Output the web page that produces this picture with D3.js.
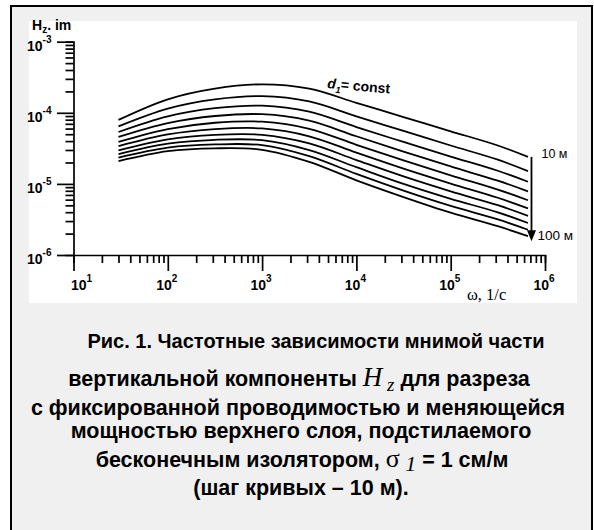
<!DOCTYPE html>
<html><head><meta charset="utf-8">
<script src="https://cdn.jsdelivr.net/npm/d3@7"></script>
<style>body{margin:0;background:#fff}svg{display:block}</style>
</head><body>
<svg id="c" width="594" height="530"></svg>
<script>
// ---- data ----
const omega = [30, 100, 316, 1000, 3160, 10000, 31600, 100000, 316000, 660000];
// log10(Hz.im) for layer thickness d = 10 ... 100 m
const d10  = [-4.10, -3.81, -3.66, -3.60, -3.66, -3.86, -4.06, -4.26, -4.46, -4.62];
const d20  = [-4.19, -3.94, -3.81, -3.765, -3.84, -4.05, -4.255, -4.46, -4.66, -4.82];
const d30  = [-4.27, -4.05, -3.935, -3.90, -3.985, -4.20, -4.41, -4.615, -4.815, -4.97];
const d40  = [-4.34, -4.145, -4.045, -4.02, -4.11, -4.33, -4.545, -4.755, -4.955, -5.105];
const d50  = [-4.41, -4.23, -4.14, -4.125, -4.225, -4.45, -4.67, -4.88, -5.08, -5.23];
const d60  = [-4.47, -4.305, -4.23, -4.22, -4.33, -4.56, -4.785, -4.995, -5.195, -5.345];
const d70  = [-4.53, -4.375, -4.31, -4.31, -4.43, -4.665, -4.895, -5.105, -5.30, -5.45];
const d80  = [-4.58, -4.435, -4.38, -4.385, -4.525, -4.765, -5.00, -5.21, -5.40, -5.55];
const d90  = [-4.63, -4.49, -4.445, -4.455, -4.61, -4.86, -5.095, -5.31, -5.50, -5.645];
const d100 = [-4.68, -4.54, -4.50, -4.52, -4.69, -4.95, -5.185, -5.405, -5.595, -5.735];
const seriesLog = [d10, d20, d30, d40, d50, d60, d70, d80, d90, d100];
const xMajor = [1, 2, 3, 4, 5, 6];       // exponents of x tick labels
const yMajor = [-3, -4, -5, -6];         // exponents of y tick labels
const firstLabel = "10 м", lastLabel = "100 м";
const captionLines = [
  "Рис. 1. Частотные зависимости мнимой части",
  "вертикальной компоненты",
  "с фиксированной проводимостью и меняющейся",
  "мощностью верхнего слоя, подстилаемого",
  "бесконечным изолятором,",
  "(шаг кривых – 10 м)."
];

const svg = d3.select("#c");
const SANS = "'Liberation Sans', Arial, sans-serif";
const SERIF = "'Liberation Serif', 'Times New Roman', serif";

// frame & panels
svg.append("rect").attr("x", 11).attr("y", 6).attr("width", 581).attr("height", 540)
  .attr("fill", "#f0f0f0").attr("stroke", "#000").attr("stroke-width", 2);
svg.append("rect").attr("x", 29).attr("y", 21).attr("width", 548).attr("height", 282).attr("fill", "#fff");

// scales
const x = d3.scaleLog().domain([10, 1e6]).range([73.5, 545]);
const y = d3.scaleLog().domain([1e-6, 1e-3]).range([255, 41.7]);

// ticks
const xTicks = [], yTicks = [];
for (let e = 1; e < 6; e++) for (let m = 1; m < 10; m++) xTicks.push(m * Math.pow(10, e));
xTicks.push(1e6);
for (let e = -6; e < -3; e++) for (let m = 1; m < 10; m++) yTicks.push(m * Math.pow(10, e));
yTicks.push(1e-3);
const isMajor = v => Math.abs(Math.log10(v) - Math.round(Math.log10(v))) < 1e-9;

const gx = svg.append("g").attr("transform", "translate(0,255)")
  .call(d3.axisBottom(x).tickValues(xTicks).tickFormat("").tickSizeOuter(0).tickSize(8));
gx.selectAll(".tick line").attr("y2", d => isMajor(d) ? 16 : 8);
const gy = svg.append("g").attr("transform", "translate(73.5,0)")
  .call(d3.axisLeft(y).tickValues(yTicks).tickFormat("").tickSizeOuter(0).tickSize(8));
gy.selectAll(".tick line").attr("x2", d => isMajor(d) ? -16.5 : -8);
svg.selectAll(".domain").attr("stroke", "#000").attr("stroke-width", 1.7);
svg.selectAll(".tick line").attr("stroke", "#000").attr("stroke-width", 1.7);

// tick labels
xMajor.forEach((e, i) => {
  const t = svg.append("text").attr("x", x(Math.pow(10, e)) + (i === 0 ? 9 : 0) - 1).attr("y", 290)
    .attr("text-anchor", "middle").attr("font-family", SANS).attr("font-weight", "bold").attr("font-size", 14);
  t.append("tspan").text("10");
  t.append("tspan").attr("font-size", 10).attr("dy", -8).text(e);
});
yMajor.forEach(e => {
  const t = svg.append("text").attr("x", 27).attr("y", y(Math.pow(10, e)) + 9)
    .attr("font-family", SANS).attr("font-weight", "bold").attr("font-size", 14);
  t.append("tspan").text("10");
  t.append("tspan").attr("font-size", 10).attr("dy", -8).text(e);
});

// axis titles
const yt = svg.append("text").attr("x", 32).attr("y", 29.5).attr("font-family", SANS)
  .attr("font-weight", "bold").attr("font-size", 14);
yt.append("tspan").text("H");
yt.append("tspan").attr("font-size", 10).attr("dy", 3).text("z");
yt.append("tspan").attr("dy", -3).text(". im");
svg.append("text").attr("x", 467).attr("y", 300).attr("font-family", SERIF).attr("font-size", 16.5)
  .text("ω, 1/с");

// curves
const line = d3.line().x((d, i) => x(omega[i])).y(d => y(Math.pow(10, d))).curve(d3.curveCatmullRom.alpha(0.5));
svg.append("g").selectAll("path").data(seriesLog).join("path")
  .attr("d", line).attr("fill", "none").attr("stroke", "#000").attr("stroke-width", 1.8);

// d1 = const label
const lbl = svg.append("text").attr("transform", "translate(327,88) rotate(5)")
  .attr("font-family", SANS).attr("font-weight", "bold").attr("font-size", 14);
lbl.append("tspan").attr("font-style", "italic").text("d");
lbl.append("tspan").attr("font-style", "italic").attr("font-size", 9).attr("dy", 4).text("1");
lbl.append("tspan").attr("dy", -4).text("= const");

// arrow
const xe = x(omega[omega.length - 1]) + 3.5;
const yTop = y(Math.pow(10, d10[d10.length - 1]));
const yBot = y(Math.pow(10, d100[d100.length - 1])) + 5;
svg.append("line").attr("x1", xe).attr("x2", xe).attr("y1", yTop).attr("y2", yBot - 8)
  .attr("stroke", "#000").attr("stroke-width", 1.8);
svg.append("path").attr("d", `M${xe - 4.5},${yBot - 11} L${xe + 4.5},${yBot - 11} L${xe},${yBot} Z`).attr("fill", "#000");
svg.append("text").attr("x", xe + 10).attr("y", yTop + 1).attr("font-family", SANS).attr("font-size", 12.5).text(firstLabel);
svg.append("text").attr("x", xe + 6).attr("y", yBot - 1).attr("font-family", SANS).attr("font-size", 13.5).text(lastLabel);

// caption
const base = [348, 386, 415, 438, 467, 495];
const centers = [316, 299, 298, 301, 302, 301];
const sizes = [20, 21.5, 21.5, 21.5, 21.5, 21.5];
function capText(i) {
  return svg.append("text").attr("x", centers[i]).attr("y", base[i]).attr("text-anchor", "middle")
    .attr("font-family", SANS).attr("font-weight", "bold").attr("font-size", sizes[i]);
}
capText(0).text(captionLines[0]);
const l2 = capText(1);
l2.append("tspan").text(captionLines[1] + " ");
l2.append("tspan").attr("font-family", SERIF).attr("font-weight", "normal").attr("font-style", "italic").attr("font-size", 27).text("H");
l2.append("tspan").attr("font-family", SERIF).attr("font-weight", "normal").attr("font-style", "italic").attr("font-size", 19).attr("dy", 5).text(" z");
l2.append("tspan").attr("dy", -5).text("  для разреза");
capText(2).text(captionLines[2]);
capText(3).text(captionLines[3]);
const l5 = capText(4);
l5.append("tspan").text(captionLines[4] + "   ");
l5.append("tspan").attr("font-family", SERIF).attr("font-weight", "normal").attr("font-size", 26).text("σ");
l5.append("tspan").attr("font-family", SERIF).attr("font-weight", "normal").attr("font-style", "italic").attr("font-size", 22).attr("dy", 4).text(" 1");
l5.append("tspan").attr("dy", -4).text(" = 1 см/м");
capText(5).text(captionLines[5]);
</script>
</body></html>
